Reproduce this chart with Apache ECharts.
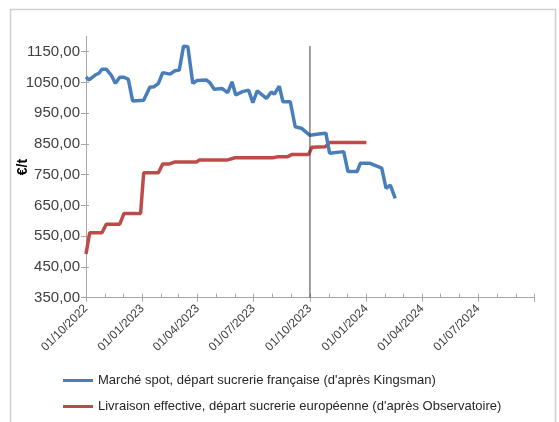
<!DOCTYPE html>
<html>
<head>
<meta charset="utf-8">
<script src="https://cdn.jsdelivr.net/npm/echarts@6/dist/echarts.min.js"></script>
<style>
  html, body { margin: 0; padding: 0; background: #fff; }
  #chart { width: 559px; height: 422px; }
</style>
</head>
<body>
<div id="chart"></div>
<script>
// spot price, French sugar factory (Kingsman)
const spotDates = [
  "2022-10-01", "2022-10-06", "2022-10-16", "2022-10-22", "2022-10-27", "2022-11-03",
  "2022-11-11", "2022-11-18", "2022-11-25", "2022-12-02", "2022-12-09", "2022-12-16",
  "2023-01-03", "2023-01-13", "2023-01-20", "2023-01-27", "2023-02-03", "2023-02-15",
  "2023-02-23", "2023-03-02", "2023-03-09", "2023-03-16", "2023-03-24", "2023-03-31",
  "2023-04-15", "2023-04-21", "2023-04-28", "2023-05-11", "2023-05-20", "2023-05-27",
  "2023-06-02", "2023-06-13", "2023-06-23", "2023-06-30", "2023-07-07", "2023-07-22",
  "2023-07-30", "2023-08-04", "2023-08-12", "2023-08-18", "2023-08-30", "2023-09-07",
  "2023-09-18", "2023-10-01", "2023-10-15", "2023-10-27", "2023-11-02", "2023-11-25",
  "2023-12-02", "2023-12-17", "2023-12-22", "2024-01-07", "2024-01-26", "2024-02-02",
  "2024-02-09", "2024-02-17"
];
const spotValues = [
  1068, 1058, 1074, 1080, 1093, 1093,
  1074, 1047, 1067, 1067, 1060, 990,
  992, 1034, 1036, 1047, 1082, 1077,
  1088, 1090, 1168, 1166, 1047, 1056,
  1058, 1049, 1028, 1030, 1017, 1052,
  1009, 1020, 1025, 984, 1023, 998,
  1019, 1012, 1038, 987, 987, 906,
  900, 878, 882, 885, 820, 825,
  760, 760, 787, 787, 771, 706,
  716, 673
];

// effective delivery, European sugar factory (Observatoire)
const euDates = [
  "2022-10-01", "2022-10-07", "2022-10-27", "2022-11-03", "2022-11-25", "2022-12-02",
  "2022-12-29", "2023-01-03", "2023-01-27", "2023-02-03", "2023-02-14", "2023-02-22",
  "2023-03-30", "2023-04-04", "2023-05-20", "2023-06-01", "2023-08-01", "2023-08-09",
  "2023-08-25", "2023-09-02", "2023-09-29", "2023-10-04", "2023-10-26", "2023-11-02",
  "2024-01-01"
];
const euValues = [
  492, 561, 561, 589, 589, 624,
  624, 756, 756, 785, 785, 791,
  791, 798, 798, 805, 805, 808,
  808, 816, 816, 839, 841, 855,
  855
];

const seriesNames = [
  "Marché spot, départ sucrerie française (d'après Kingsman)",
  "Livraison effective, départ sucrerie européenne (d'après Observatoire)"
];

const markerDate = "2023-10-01";
const markerRange = [350, 1168];

const yTicks = [350, 450, 550, 650, 750, 850, 950, 1050, 1150];
const quarterTicks = [
  "2022-10-01", "2023-01-01", "2023-04-01", "2023-07-01", "2023-10-01",
  "2024-01-01", "2024-04-01", "2024-07-01", "2024-10-01"
];
const quarterLabels = quarterTicks.slice(0, 8);
const monthTicks = [
  "2022-10-01", "2022-11-01", "2022-12-01", "2023-01-01", "2023-02-01", "2023-03-01",
  "2023-04-01", "2023-05-01", "2023-06-01", "2023-07-01", "2023-08-01", "2023-09-01",
  "2023-10-01", "2023-11-01", "2023-12-01", "2024-01-01", "2024-02-01", "2024-03-01",
  "2024-04-01", "2024-05-01", "2024-06-01", "2024-07-01", "2024-08-01", "2024-09-01",
  "2024-10-01"
];

const ts = (s) => +echarts.time.parse(s);
const font = "'Liberation Sans', Arial, sans-serif";
const xMin = ts(quarterTicks[0]);
const xMax = ts(quarterTicks[quarterTicks.length - 1]);
const axisGrey = "#a6a6a6";

const chart = echarts.init(document.getElementById("chart"));

chart.setOption({
  backgroundColor: "#fff",
  animation: false,
  textStyle: { fontFamily: font },
  graphic: [
    {
      type: "rect",
      shape: { x: 10.5, y: 9.5, width: 545, height: 430 },
      style: { fill: "none", stroke: "#d0d0d0", lineWidth: 1.5 },
      silent: true,
      z: -1
    }
  ],
  grid: {
    left: 86,
    right: 24.5,
    top: 36.3,
    bottom: 124.3,
    containLabel: false,
    outerBoundsMode: "none"
  },
  legend: {
    orient: "vertical",
    left: 58,
    top: 369,
    itemWidth: 30,
    itemHeight: 3,
    itemGap: 13,
    icon: "rect",
    data: seriesNames,
    textStyle: { fontSize: 13, color: "#262626", fontFamily: font }
  },
  xAxis: [
    {
      type: "value",
      min: xMin,
      max: xMax,
      axisLine: { lineStyle: { color: axisGrey, width: 1 } },
      axisTick: {
        show: true,
        length: 4,
        customValues: quarterTicks.map(ts),
        lineStyle: { color: axisGrey }
      },
      axisLabel: {
        customValues: quarterLabels.map(ts),
        rotate: 45,
        margin: 9,
        fontSize: 12,
        color: "#404040",
        formatter: (v) => echarts.time.format(v, "{dd}/{MM}/{yyyy}", false)
      },
      splitLine: { show: false }
    },
    {
      type: "value",
      position: "bottom",
      min: xMin,
      max: xMax,
      axisLine: { show: false },
      axisTick: {
        show: true,
        inside: true,
        length: 4,
        customValues: monthTicks.map(ts),
        lineStyle: { color: axisGrey }
      },
      axisLabel: { show: false },
      splitLine: { show: false }
    }
  ],
  yAxis: [
    {
      type: "value",
      min: 350,
      max: 1200,
      name: "€/t",
      nameLocation: "middle",
      nameGap: 56,
      nameMoveOverlap: false,
      nameTextStyle: { fontSize: 14, fontWeight: "bold", color: "#000", fontFamily: font },
      axisLine: { show: true, lineStyle: { color: axisGrey } },
      axisTick: {
        show: true,
        length: 5,
        customValues: yTicks,
        lineStyle: { color: axisGrey }
      },
      axisLabel: {
        customValues: yTicks,
        fontSize: 15,
        color: "#404040",
        margin: 6,
        formatter: (v) => v.toFixed(2).replace(".", ",")
      },
      splitLine: { show: false }
    },
    {
      type: "value",
      position: "left",
      min: 350,
      max: 1200,
      axisLine: { show: false },
      axisTick: {
        show: true,
        inside: true,
        length: 3,
        customValues: yTicks,
        lineStyle: { color: axisGrey }
      },
      axisLabel: { show: false },
      splitLine: { show: false }
    }
  ],
  series: [
    {
      name: seriesNames[0],
      type: "line",
      data: spotDates.map((d, i) => [ts(d), spotValues[i]]),
      symbol: "none",
      lineStyle: { width: 3.5, color: "#4a7ebb" },
      itemStyle: { color: "#4a7ebb" },
      z: 3
    },
    {
      name: seriesNames[1],
      type: "line",
      data: euDates.map((d, i) => [ts(d), euValues[i]]),
      symbol: "none",
      lineStyle: { width: 3.5, color: "#be4b48" },
      itemStyle: { color: "#be4b48" },
      z: 2
    },
    {
      name: "marker",
      type: "line",
      data: markerRange.map((v) => [ts(markerDate), v]),
      symbol: "none",
      silent: true,
      lineStyle: { width: 1, color: "#404040" },
      z: 4
    }
  ]
});
</script>
</body>
</html>
